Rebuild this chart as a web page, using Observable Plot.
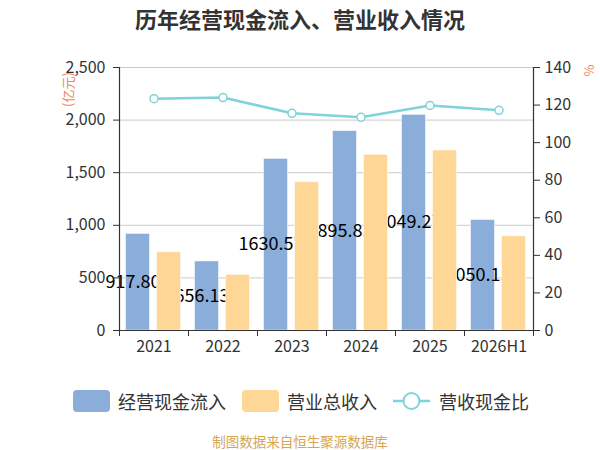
<!DOCTYPE html>
<html><head><meta charset="utf-8">
<script src="https://cdn.jsdelivr.net/npm/d3@7"></script>
<script src="https://cdn.jsdelivr.net/npm/@observablehq/plot@0.6"></script>
<style>
body{margin:0;background:#fff;font-family:"Noto Sans CJK SC","Noto Sans",sans-serif;}
#wrap{position:relative;width:600px;height:450px;overflow:hidden;background:#fff}
#title{position:absolute;top:0;left:0;width:600px;height:36px;line-height:36px;text-align:center;font-size:22px;font-weight:bold;color:#333}
#chart{position:absolute;top:0;left:0}
#legend{position:absolute;top:389px;left:73px;height:24px;display:flex;align-items:center;font-size:18px;color:#333;white-space:nowrap}
.sw{width:37px;height:22px;border-radius:4px;margin-right:8px}
.item{display:flex;align-items:center;margin-right:16px}
#caption{position:absolute;top:433px;left:0;width:600px;text-align:center;font-size:13.5px;line-height:16px;color:#d6a64f}
</style></head>
<body><div id="wrap"><div id="title">历年经营现金流入、营业收入情况</div><div id="chart"></div><div id="legend"></div><div id="caption">制图数据来自恒生聚源数据库</div></div>
<script>
const years = ["2021","2022","2023","2024","2025","2026H1"];
const cashInflow = [917.80, 656.13, 1630.57, 1895.83, 2049.27, 1050.15];
const revenue = [744, 529, 1410, 1670, 1711, 896];
const ratio = [123.4, 124.0, 115.6, 113.5, 119.8, 117.2];
const leftTicks = [0, 500, 1000, 1500, 2000, 2500];
const rightTicks = [0, 20, 40, 60, 80, 100, 120, 140];
const names = ["经营现金流入", "营业总收入", "营收现金比"];
const colors = ["#8badd9", "#fed797", "#7fd3d9"];

const k = 2500 / 140;
const data = years.map((y, i) => ({i, year: y, cash: cashInflow[i], rev: revenue[i], ratio: ratio[i]}));
const font = '"Noto Sans CJK SC","Noto Sans",sans-serif';

const chart = Plot.plot({
  width: 600, height: 370,
  marginTop: 67, marginBottom: 40, marginLeft: 119, marginRight: 67,
  style: {fontFamily: font, fontSize: "16px", color: "#333", background: "transparent", overflow: "visible"},
  x: {domain: [0, years.length], axis: null, label: null},
  y: {domain: [0, 2500], axis: null, label: null},
  marks: [
    Plot.gridY(leftTicks.slice(1), {stroke: "#ccc", strokeOpacity: 1, strokeWidth: 1}),
    Plot.rectY(data, {x1: "i", x2: d => d.i + 1, y: "cash", fill: colors[0], insetLeft: 6.5, insetRight: 38.5, stroke: "#fff", strokeOpacity: 0.5}),
    Plot.text(data, {x: d => d.i + 0.5, y: d => d.cash / 2, text: d => d.cash.toFixed(2), dx: -21, fontSize: 18, fill: "#000"}),
    Plot.rectY(data, {x1: "i", x2: d => d.i + 1, y: "rev", fill: colors[1], insetLeft: 37.5, insetRight: 7.5, stroke: "#fff", strokeOpacity: 0.5}),
    Plot.ruleY([0], {stroke: "#333", strokeWidth: 1.2}),
    Plot.ruleX([0, years.length], {stroke: "#333", strokeWidth: 1.2}),
    Plot.axisY(leftTicks, {anchor: "left", label: null, tickFormat: d3.format(","), tickSize: 6, tickPadding: 8, fontSize: 16}),
    Plot.axisY(rightTicks.map(v => v * k), {anchor: "right", label: null, tickFormat: v => String(Math.round(v / k)), tickSize: 6, tickPadding: 5, fontSize: 16}),
    Plot.axisX(d3.range(years.length + 1), {label: null, tickFormat: () => "", tickSize: 6}),
    Plot.axisX(d3.range(years.length).map(i => i + 0.5), {label: null, tickSize: 0, tickPadding: 10, tickFormat: v => years[Math.floor(v)], fontSize: 16}),
    Plot.line(data, {x: d => d.i + 0.5, y: d => d.ratio * k, stroke: colors[2], strokeWidth: 2.5}),
    Plot.dot(data, {x: d => d.i + 0.5, y: d => d.ratio * k, r: 4, fill: "#fff", stroke: colors[2], strokeWidth: 1.5}),
    Plot.text(["(亿元)"], {frameAnchor: "top-left", textAnchor: "middle", lineAnchor: "middle", dx: -51, dy: 22, rotate: -90, fill: "#f0845a", fontSize: 13}),
    Plot.text(["%"], {frameAnchor: "top-right", textAnchor: "middle", lineAnchor: "middle", dx: 56, dy: 3, rotate: -90, fill: "#f0845a", fontSize: 13})
  ]
});
document.getElementById("chart").appendChild(chart);

const legend = document.getElementById("legend");
names.forEach((n, i) => {
  const item = document.createElement("div");
  item.className = "item";
  if (i < 2) {
    const sw = document.createElement("div");
    sw.className = "sw";
    sw.style.background = colors[i];
    item.appendChild(sw);
  } else {
    const ns = "http://www.w3.org/2000/svg";
    const svg = document.createElementNS(ns, "svg");
    svg.setAttribute("width", 37); svg.setAttribute("height", 22);
    svg.style.marginRight = "9px";
    const ln = document.createElementNS(ns, "line");
    ln.setAttribute("x1", 0); ln.setAttribute("x2", 37); ln.setAttribute("y1", 11); ln.setAttribute("y2", 11);
    ln.setAttribute("stroke", colors[2]); ln.setAttribute("stroke-width", 2.5);
    const c = document.createElementNS(ns, "circle");
    c.setAttribute("cx", 18.5); c.setAttribute("cy", 11); c.setAttribute("r", 8);
    c.setAttribute("fill", "#fff"); c.setAttribute("stroke", colors[2]); c.setAttribute("stroke-width", 2);
    svg.appendChild(ln); svg.appendChild(c);
    item.appendChild(svg);
  }
  const t = document.createElement("span");
  t.textContent = n;
  item.appendChild(t);
  legend.appendChild(item);
});
</script>
</body></html>
